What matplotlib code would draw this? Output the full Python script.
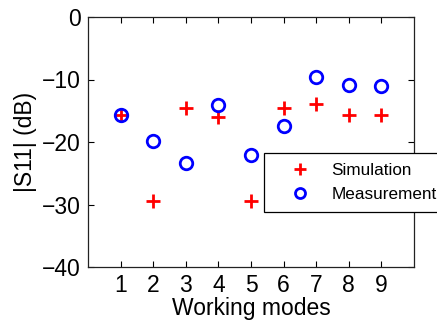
import matplotlib
matplotlib.use("Agg")
from matplotlib import pyplot as plt

plt.rcParams["font.family"] = ["Liberation Sans", "DejaVu Sans"]

modes = [1, 2, 3, 4, 5, 6, 7, 8, 9]
simulation = [-15.7, -29.5, -14.5, -16.0, -29.5, -14.5, -13.9, -15.6, -15.6]
measurement = [-15.6, -19.8, -23.4, -14.1, -22.1, -17.5, -9.55, -10.9, -11.0]
y_ticks = [-40, -30, -20, -10, 0]

fig = plt.figure(figsize = (4.37, 3.25), dpi = 100)
ax = fig.add_axes([88 / 437, 1 - 267 / 325, (414 - 88) / 437, (267 - 17) / 325])

ax.plot(modes, simulation, linestyle = "none", marker = "+", color = "red",
        markersize = 10, markeredgewidth = 2, label = "Simulation")
ax.plot(modes, measurement, linestyle = "none", marker = "o", color = "blue",
        markerfacecolor = "none", markersize = 9, markeredgewidth = 2, label = "Measurement")

ax.set_xlim(0, 10)
ax.set_ylim(-40, 0)
ax.set_xticks(modes)
ax.set_yticks(y_ticks)
ax.tick_params(direction = "in", length = 4, width = 0.8, labelsize = 16.5,
               top = True, right = True, pad = 5)
for s in ax.spines.values():
    s.set_linewidth(0.9)
    s.set_color("#222222")

ax.set_xlabel("Working modes", fontsize = 16.5, labelpad = 0)
ax.set_ylabel("|S11| (dB)", fontsize = 16.5, labelpad = 4)

leg = ax.legend(loc = "upper left", bbox_to_anchor = (264 / 437, 1 - 153 / 325),
                bbox_transform = fig.transFigure, fontsize = 12.3, fancybox = False,
                framealpha = 1, edgecolor = "black", borderpad = 0.6,
                handletextpad = 0.35, borderaxespad = 0, handlelength = 3.0,
                markerscale = 0.8, labelspacing = 0.5)
leg.get_frame().set_linewidth(0.9)

plt.savefig("out.png", dpi = 100)
